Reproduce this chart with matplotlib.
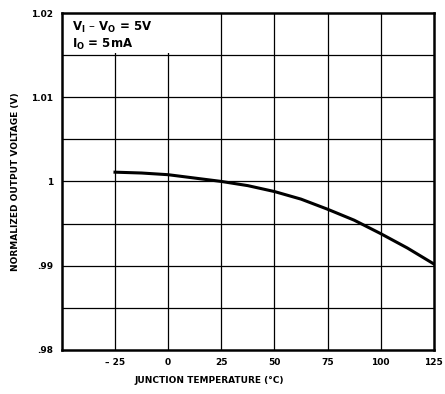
import matplotlib.pyplot as plt
from matplotlib.patches import Rectangle
import numpy as np

# values
temp = [-25, -12.5, 0, 12.5, 25, 37.5, 50, 62.5, 75, 87.5, 100, 112.5, 125]
vout = [1.0011, 1.0010, 1.0008, 1.0004, 1.0000, 0.9995, 0.9988, 0.9979,
        0.9967, 0.9954, 0.9938, 0.9921, 0.9902]

x_ticks = [-25, 0, 25, 50, 75, 100, 125]
x_labels = ["\u2013 25", "0", "25", "50", "75", "100", "125"]
y_ticks = [0.98, 0.99, 1.0, 1.01, 1.02]
y_labels = [".98", ".99", "1", "1.01", "1.02"]

fig = plt.figure(figsize=(4.45, 3.94), dpi=100)
ax = fig.add_axes([0.139, 0.112, 0.836, 0.855])

ax.set_xlim(-50, 125)
ax.set_ylim(0.98, 1.02)

# grid
for x in np.arange(-25, 125, 25):
    ax.axvline(x, color="black", lw=0.9, zorder=1)
for y in np.arange(0.985, 1.0199, 0.005):
    ax.axhline(y, color="black", lw=0.9, zorder=1)

# box for the conditions text, hides the grid behind it
ax.add_patch(Rectangle((-50, 1.0152), 56, 0.0048, facecolor="white",
                       edgecolor="none", zorder=2))
ax.text(-45, 1.0183, "V$_\\mathregular{I}$ \u2013 V$_\\mathregular{O}$ = 5V",
        fontsize=8.5, fontweight="bold", va="center", zorder=3)
ax.text(-45, 1.0163, "I$_\\mathregular{O}$ = 5mA",
        fontsize=8.5, fontweight="bold", va="center", zorder=3)

ax.plot(temp, vout, color="black", lw=2.2, zorder=4, solid_joinstyle="round")

ax.set_xticks(x_ticks)
ax.set_xticklabels(x_labels, fontsize=6.5, fontweight="bold")
ax.set_yticks(y_ticks)
ax.set_yticklabels(y_labels, fontsize=6.5, fontweight="bold")
ax.tick_params(length=0, pad=6)

for s in ax.spines.values():
    s.set_linewidth(1.8)

fig.text(0.47, 0.035, "JUNCTION TEMPERATURE (\u00b0C)", fontsize=6.5,
         fontweight="bold", ha="center", va="center")
fig.text(0.035, 0.54, "NORMALIZED OUTPUT VOLTAGE (V)", fontsize=6.5,
         fontweight="bold", ha="center", va="center", rotation=90)

fig.savefig("out.png", dpi=100)
